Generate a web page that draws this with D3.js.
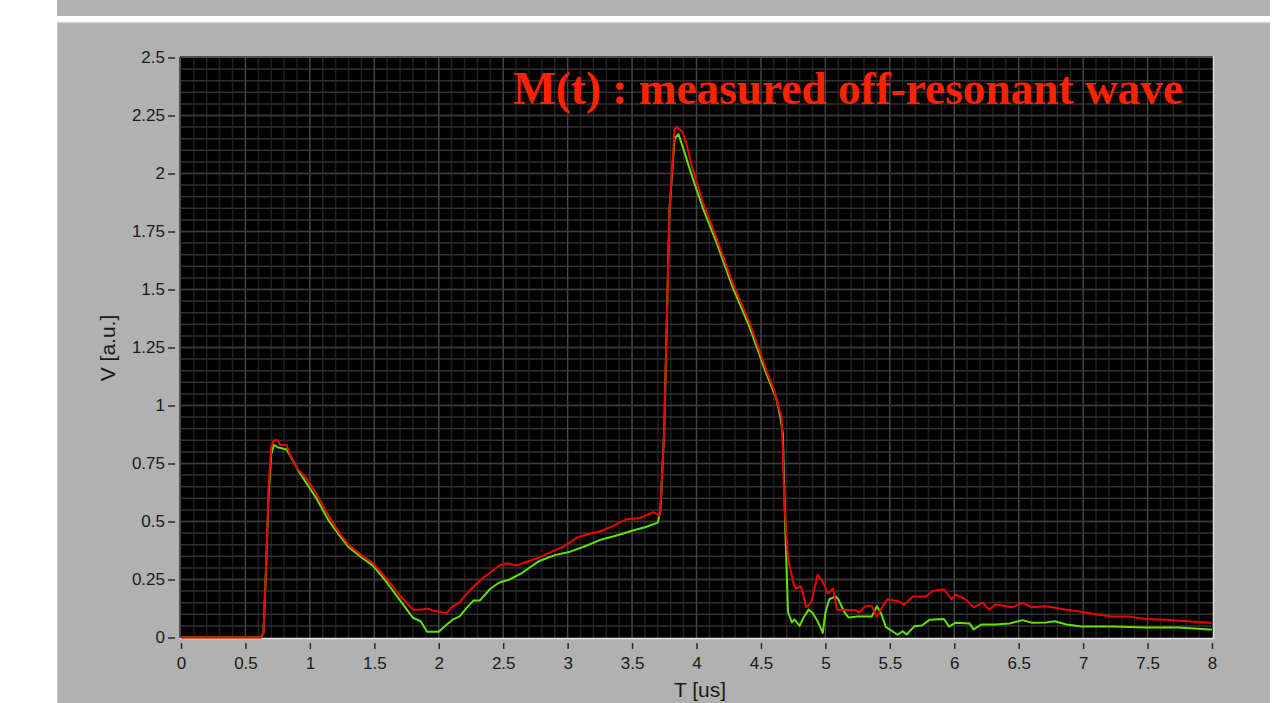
<!DOCTYPE html>
<html>
<head>
<meta charset="utf-8">
<script src="https://cdn.jsdelivr.net/npm/d3@7"></script>
<style>
  html, body { margin: 0; padding: 0; background: #ffffff; }
  svg { display: block; }
  text { font-family: "Liberation Sans", Helvetica, Arial, sans-serif; }
</style>
</head>
<body>
<svg id="chart" width="1278" height="703"></svg>
<script>
// ---------------- data ----------------
const titleText = "M(t) : measured off-resonant wave";
const xLabel = "T [us]";
const yLabel = "V [a.u.]";
const xTickValues = [0, 0.5, 1, 1.5, 2, 2.5, 3, 3.5, 4, 4.5, 5, 5.5, 6, 6.5, 7, 7.5, 8];
const xTickLabels = ["0","0.5","1","1.5","2","2.5","3","3.5","4","4.5","5","5.5","6","6.5","7","7.5","8"];
const yTickValues = [0, 0.25, 0.5, 0.75, 1, 1.25, 1.5, 1.75, 2, 2.25, 2.5];
const yTickLabels = ["0","0.25","0.5","0.75","1","1.25","1.5","1.75","2","2.25","2.5"];

// red trace (upper) : time [us]
const redT = [0,0.62,0.64,0.66,0.68,0.70,0.72,0.75,0.77,0.82,0.85,0.90,0.98,1.05,1.15,1.23,1.30,1.40,1.49,1.60,1.70,1.80,1.86,1.91,1.96,2.01,2.06,2.11,2.16,2.22,2.27,2.35,2.40,2.47,2.53,2.60,2.70,2.78,2.88,2.96,3.02,3.07,3.15,3.25,3.35,3.46,3.56,3.62,3.67,3.71,3.72,3.75,3.79,3.83,3.845,3.89,3.92,3.97,4.05,4.15,4.28,4.41,4.54,4.60,4.63,4.66,4.67,4.68,4.71,4.75,4.77,4.81,4.83,4.85,4.89,4.94,4.98,5.02,5.06,5.09,5.24,5.26,5.31,5.36,5.40,5.44,5.48,5.57,5.61,5.68,5.78,5.83,5.92,5.98,6.01,6.09,6.15,6.22,6.27,6.32,6.45,6.53,6.60,6.71,6.76,6.87,6.97,7.10,7.23,7.36,7.49,7.64,7.80,7.98,8.0];
// red trace : voltage [a.u.]
const redV = [0,0,0.02,0.30,0.65,0.82,0.85,0.85,0.83,0.83,0.78,0.73,0.68,0.62,0.52,0.45,0.40,0.355,0.32,0.25,0.18,0.12,0.12,0.125,0.115,0.11,0.105,0.135,0.15,0.19,0.22,0.26,0.28,0.31,0.32,0.31,0.33,0.345,0.37,0.39,0.41,0.43,0.445,0.457,0.48,0.51,0.515,0.53,0.54,0.525,0.55,0.90,1.84,2.19,2.20,2.18,2.13,2.02,1.875,1.73,1.53,1.36,1.155,1.07,1.01,0.95,0.80,0.59,0.34,0.24,0.21,0.22,0.18,0.13,0.15,0.27,0.24,0.19,0.21,0.12,0.117,0.107,0.135,0.135,0.09,0.13,0.165,0.155,0.14,0.177,0.177,0.20,0.207,0.164,0.185,0.164,0.13,0.15,0.12,0.142,0.13,0.15,0.13,0.135,0.13,0.12,0.112,0.10,0.09,0.09,0.08,0.077,0.07,0.064,0.064];

// green trace (lower) : time [us]
const greenT = [0,0.62,0.64,0.66,0.68,0.70,0.72,0.75,0.82,0.86,0.92,0.98,1.05,1.15,1.23,1.30,1.40,1.49,1.60,1.70,1.80,1.86,1.91,2.00,2.06,2.11,2.16,2.22,2.27,2.32,2.40,2.47,2.55,2.65,2.78,2.90,3.02,3.12,3.25,3.38,3.50,3.60,3.70,3.72,3.75,3.79,3.83,3.86,3.89,3.93,3.97,4.05,4.15,4.28,4.41,4.54,4.62,4.65,4.67,4.69,4.71,4.74,4.76,4.80,4.83,4.87,4.90,4.94,4.98,5.00,5.03,5.08,5.10,5.15,5.18,5.24,5.36,5.40,5.43,5.47,5.52,5.56,5.60,5.63,5.69,5.75,5.81,5.92,5.96,6.01,6.12,6.15,6.21,6.32,6.43,6.53,6.60,6.71,6.78,6.87,6.99,7.23,7.49,7.74,7.98,8.0];
// green trace : voltage [a.u.]
const greenV = [0,0,0.02,0.30,0.62,0.79,0.83,0.82,0.81,0.77,0.71,0.66,0.60,0.50,0.44,0.39,0.345,0.31,0.235,0.16,0.085,0.07,0.025,0.025,0.055,0.078,0.09,0.13,0.16,0.16,0.21,0.237,0.25,0.28,0.33,0.355,0.37,0.39,0.42,0.44,0.46,0.475,0.495,0.55,0.90,1.84,2.15,2.17,2.12,2.05,1.98,1.85,1.71,1.51,1.34,1.14,1.03,0.95,0.88,0.45,0.11,0.065,0.078,0.05,0.085,0.12,0.107,0.07,0.02,0.107,0.165,0.177,0.165,0.107,0.086,0.09,0.09,0.135,0.107,0.045,0.027,0.012,0.027,0.013,0.048,0.052,0.077,0.08,0.047,0.064,0.06,0.035,0.056,0.056,0.06,0.075,0.064,0.065,0.07,0.056,0.047,0.047,0.043,0.043,0.035,0.035];

// ---------------- drawing ----------------
const svg = d3.select("#chart");

// outer gray panels
svg.append("rect").attr("x", 57).attr("y", 0).attr("width", 1213).attr("height", 16).attr("fill", "#b1b1b1");
svg.append("rect").attr("x", 57).attr("y", 22).attr("width", 1213).attr("height", 681).attr("fill", "#b1b1b1");
svg.append("line").attr("x1", 57).attr("x2", 1270).attr("y1", 22.5).attr("y2", 22.5).attr("stroke", "#d2d2d2").attr("stroke-width", 1.5);
svg.append("line").attr("x1", 57.5).attr("x2", 57.5).attr("y1", 22).attr("y2", 703).attr("stroke", "#c4c4c4").attr("stroke-width", 1);

const plot = { left: 180, right: 1213, top: 57, bottom: 638 };
const x = d3.scaleLinear().domain([0, 8]).range([181, 1212]);
const y = d3.scaleLinear().domain([0, 2.5]).range([637.5, 57.5]);

// plot background
svg.append("rect").attr("x", plot.left).attr("y", plot.top)
  .attr("width", plot.right - plot.left).attr("height", plot.bottom - plot.top)
  .attr("fill", "#000000");

const grid = svg.append("g");
// minor vertical grid (every 0.1)
const minorX = d3.range(0, 81).map(i => i / 10).filter(v => Math.abs(v * 2 - Math.round(v * 2)) > 1e-6);
grid.selectAll("line.mx").data(minorX).enter().append("line")
  .attr("x1", d => x(d)).attr("x2", d => x(d)).attr("y1", plot.top).attr("y2", plot.bottom)
  .attr("stroke", "#1f1f1f").attr("stroke-width", 1.5);
// horizontal grid (every 0.05)
const minorY = d3.range(1, 50).map(i => i * 0.05);
grid.selectAll("line.my").data(minorY).enter().append("line")
  .attr("x1", plot.left).attr("x2", plot.right).attr("y1", d => y(d)).attr("y2", d => y(d))
  .attr("stroke", "#303030").attr("stroke-width", 1.5);
// major vertical grid (every 0.5)
grid.selectAll("line.Mx").data(xTickValues.slice(1, -1)).enter().append("line")
  .attr("x1", d => x(d)).attr("x2", d => x(d)).attr("y1", plot.top).attr("y2", plot.bottom)
  .attr("stroke", "#434343").attr("stroke-width", 1.5);
// major horizontal grid
grid.selectAll("line.My").data(yTickValues.slice(1, -1)).enter().append("line")
  .attr("x1", plot.left).attr("x2", plot.right).attr("y1", d => y(d)).attr("y2", d => y(d))
  .attr("stroke", "#3a3a3a").attr("stroke-width", 1.5);

// frame
svg.append("line").attr("x1", plot.left).attr("x2", plot.right).attr("y1", plot.top).attr("y2", plot.top)
  .attr("stroke", "#4d4d4d").attr("stroke-width", 2);
svg.append("line").attr("x1", plot.left).attr("x2", plot.left).attr("y1", plot.top).attr("y2", plot.bottom)
  .attr("stroke", "#4d4d4d").attr("stroke-width", 2);
svg.append("line").attr("x1", plot.left).attr("x2", plot.right + 1).attr("y1", plot.bottom + 0.5).attr("y2", plot.bottom + 0.5)
  .attr("stroke", "#e4e4e4").attr("stroke-width", 1.5);
svg.append("line").attr("x1", plot.right + 0.5).attr("x2", plot.right + 0.5).attr("y1", plot.top - 1).attr("y2", plot.bottom + 1)
  .attr("stroke", "#dcdcdc").attr("stroke-width", 1.5);

// traces
const clip = svg.append("clipPath").attr("id", "clip").append("rect")
  .attr("x", plot.left).attr("y", plot.top - 2).attr("width", plot.right - plot.left).attr("height", plot.bottom - plot.top + 3);
const line = d3.line().x(d => x(d[0])).y(d => y(d[1]));
const greenData = greenT.map((t, i) => [t, greenV[i]]);
const redData = redT.map((t, i) => [t, redV[i]]);
const traces = svg.append("g").attr("clip-path", "url(#clip)");
traces.append("path").datum(greenData).attr("d", line)
  .attr("fill", "none").attr("stroke", "#62e000").attr("stroke-width", 2).attr("stroke-linejoin", "round");
traces.append("path").datum(redData).attr("d", line)
  .attr("fill", "none").attr("stroke", "#f00000").attr("stroke-width", 2).attr("stroke-linejoin", "round");

// title
svg.append("text").attr("x", 513).attr("y", 104)
  .attr("textLength", 670).attr("lengthAdjust", "spacingAndGlyphs")
  .style("font-family", "'Liberation Serif', 'Times New Roman', serif")
  .style("font-weight", "bold").style("font-size", "46px")
  .attr("fill", "#ff2200").text(titleText);

// axes
const yAxis = d3.axisLeft(y).tickValues(yTickValues).tickSize(7).tickPadding(3)
  .tickFormat((d, i) => yTickLabels[i]);
const gy = svg.append("g").attr("transform", "translate(175,0)").call(yAxis);
gy.select(".domain").remove();
gy.selectAll(".tick line").attr("stroke", "#2a2a2a").attr("stroke-width", 1.5);
gy.selectAll(".tick text").attr("fill", "#1a1a1a").style("font-size", "17px")
  .style("font-family", "'Liberation Sans', Helvetica, Arial, sans-serif");

const xAxis = d3.axisBottom(x).tickValues(xTickValues).tickSize(6).tickPadding(8)
  .tickFormat((d, i) => xTickLabels[i]);
const gx = svg.append("g").attr("transform", "translate(0,643)").call(xAxis);
gx.select(".domain").remove();
gx.selectAll(".tick line").attr("stroke", "#2a2a2a").attr("stroke-width", 1.5);
gx.selectAll(".tick text").attr("fill", "#1a1a1a").style("font-size", "17px")
  .style("font-family", "'Liberation Sans', Helvetica, Arial, sans-serif");

// axis labels
svg.append("text").attr("x", 700).attr("y", 697).attr("text-anchor", "middle")
  .style("font-size", "21px").attr("fill", "#1a1a1a").text(xLabel);
svg.append("text").attr("transform", "translate(115,348) rotate(-90)").attr("text-anchor", "middle")
  .style("font-size", "21px").attr("fill", "#1a1a1a").text(yLabel);
</script>
</body>
</html>
